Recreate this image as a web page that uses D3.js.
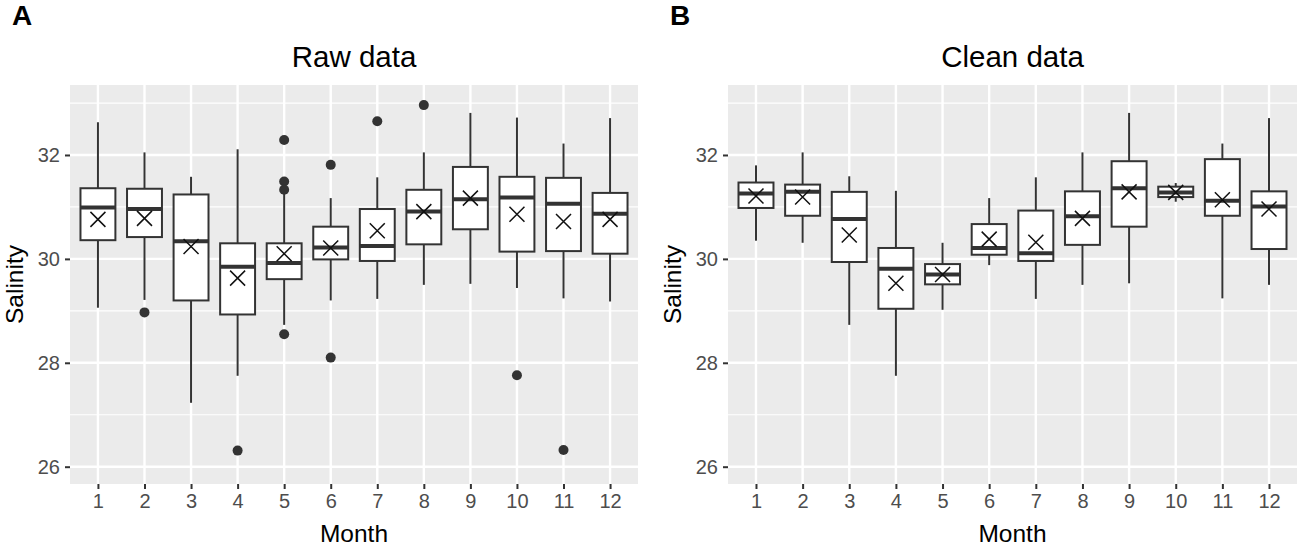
<!DOCTYPE html>
<html>
<head>
<meta charset="utf-8">
<script src="https://cdn.jsdelivr.net/npm/d3@7.9.0/dist/d3.min.js"></script>
<style>
  body { margin: 0; background: #fff; }
  svg { display: block; font-family: "Liberation Sans", Arial, sans-serif; }
</style>
</head>
<body>
<div id="chart"></div>
<script>
const months = [1, 2, 3, 4, 5, 6, 7, 8, 9, 10, 11, 12];
const yTicks = [26, 28, 30, 32];
const yMinor = [27, 29, 31, 33];

// Raw data, per month: whisker ends, quartiles, median, mean
const rawLow  = [29.06, 29.21, 27.23, 27.75, 28.73, 29.20, 29.23, 29.50, 29.52, 29.44, 29.24, 29.18];
const rawQ1   = [30.36, 30.42, 29.20, 28.93, 29.61, 29.99, 29.96, 30.28, 30.57, 30.14, 30.15, 30.10];
const rawMed  = [30.99, 30.96, 30.34, 29.85, 29.92, 30.22, 30.25, 30.91, 31.15, 31.18, 31.06, 30.87];
const rawQ3   = [31.36, 31.35, 31.24, 30.30, 30.30, 30.62, 30.96, 31.33, 31.77, 31.58, 31.56, 31.27];
const rawHigh = [32.63, 32.05, 31.58, 32.11, 31.25, 31.17, 31.57, 32.05, 32.81, 32.72, 32.22, 32.71];
const rawMean = [30.76, 30.78, 30.24, 29.63, 30.10, 30.21, 30.54, 30.91, 31.17, 30.86, 30.72, 30.76];
const rawOutliers = [
  [2, 28.97], [4, 26.31], [5, 32.29], [5, 31.49], [5, 31.33], [5, 28.55],
  [6, 31.81], [6, 28.10], [7, 32.65], [8, 32.96], [10, 27.76], [11, 26.32]
];

// Clean data
const cleanLow  = [30.35, 30.31, 28.73, 27.75, 29.02, 29.88, 29.23, 29.50, 29.53, 31.10, 29.24, 29.50];
const cleanQ1   = [30.98, 30.83, 29.94, 29.04, 29.51, 30.08, 29.96, 30.27, 30.62, 31.19, 30.83, 30.19];
const cleanMed  = [31.26, 31.29, 30.77, 29.81, 29.70, 30.21, 30.11, 30.82, 31.36, 31.28, 31.12, 31.01];
const cleanQ3   = [31.47, 31.43, 31.29, 30.21, 29.90, 30.67, 30.93, 31.30, 31.88, 31.39, 31.92, 31.30];
const cleanHigh = [31.80, 32.05, 31.59, 31.31, 30.31, 31.17, 31.57, 32.05, 32.81, 31.46, 32.22, 32.71];
const cleanMean = [31.21, 31.19, 30.46, 29.53, 29.70, 30.38, 30.32, 30.78, 31.29, 31.28, 31.14, 30.96];
const cleanOutliers = [];

const width = 1299, height = 549;
const panelTop = 85, panelBottom = 484;

const svg = d3.select('#chart')
  .append('svg')
  .attr('width', width)
  .attr('height', height);

svg.append('rect').attr('width', width).attr('height', height).attr('fill', '#fff');

const yScale = d3.scaleLinear()
  .domain([25.667, 33.347])
  .range([panelBottom, panelTop]);

function drawPanel(left, right, title, tag, low, q1, med, q3, high, mean, outliers) {
  const x = d3.scalePoint()
    .domain(months)
    .range([left, right])
    .padding(0.6);
  const boxW = x.step() * 0.75;

  const g = svg.append('g');

  // panel background + grid
  g.append('rect')
    .attr('x', left).attr('y', panelTop)
    .attr('width', right - left).attr('height', panelBottom - panelTop)
    .attr('fill', '#ebebeb');

  g.append('g').selectAll('line')
    .data(yMinor)
    .join('line')
    .attr('x1', left).attr('x2', right)
    .attr('y1', d => yScale(d)).attr('y2', d => yScale(d))
    .attr('stroke', '#fff').attr('stroke-width', 1.2);

  g.append('g').selectAll('line')
    .data(yTicks)
    .join('line')
    .attr('x1', left).attr('x2', right)
    .attr('y1', d => yScale(d)).attr('y2', d => yScale(d))
    .attr('stroke', '#fff').attr('stroke-width', 2.4);

  g.append('g').selectAll('line')
    .data(months)
    .join('line')
    .attr('x1', d => x(d)).attr('x2', d => x(d))
    .attr('y1', panelTop).attr('y2', panelBottom)
    .attr('stroke', '#fff').attr('stroke-width', 2.4);

  // axes
  const xAxis = g.append('g')
    .attr('transform', `translate(0, ${panelBottom})`)
    .call(d3.axisBottom(x).tickSize(5).tickPadding(5));
  xAxis.select('.domain').remove();
  xAxis.selectAll('line').attr('stroke', '#333').attr('stroke-width', 2);
  xAxis.selectAll('text').attr('fill', '#4d4d4d').attr('font-size', 20)
    .attr('font-family', '"Liberation Sans", Arial, sans-serif');

  const yAxis = g.append('g')
    .attr('transform', `translate(${left}, 0)`)
    .call(d3.axisLeft(yScale).tickValues(yTicks).tickSize(5).tickPadding(5));
  yAxis.select('.domain').remove();
  yAxis.selectAll('line').attr('stroke', '#333').attr('stroke-width', 2);
  yAxis.selectAll('text').attr('fill', '#4d4d4d').attr('font-size', 20)
    .attr('font-family', '"Liberation Sans", Arial, sans-serif');

  // titles
  g.append('text')
    .attr('x', (left + right) / 2).attr('y', 66.5)
    .attr('text-anchor', 'middle')
    .attr('font-size', 29.5)
    .text(title);

  g.append('text')
    .attr('x', (left + right) / 2).attr('y', 541.5)
    .attr('text-anchor', 'middle')
    .attr('font-size', 24.5)
    .text('Month');

  g.append('text')
    .attr('transform', `translate(${left - 47}, ${(panelTop + panelBottom) / 2}) rotate(-90)`)
    .attr('text-anchor', 'middle')
    .attr('font-size', 24.5)
    .text('Salinity');

  g.append('text')
    .attr('x', left - 58).attr('y', 24.5)
    .attr('font-size', 28)
    .attr('font-weight', 'bold')
    .text(tag);

  // boxplots
  const stats = months.map((m, i) => ({
    m, low: low[i], q1: q1[i], med: med[i], q3: q3[i], high: high[i], mean: mean[i]
  }));

  const boxes = g.append('g').selectAll('g')
    .data(stats)
    .join('g');

  boxes.append('line')
    .attr('x1', d => x(d.m)).attr('x2', d => x(d.m))
    .attr('y1', d => yScale(d.high)).attr('y2', d => yScale(d.q3))
    .attr('stroke', '#333').attr('stroke-width', 2);
  boxes.append('line')
    .attr('x1', d => x(d.m)).attr('x2', d => x(d.m))
    .attr('y1', d => yScale(d.q1)).attr('y2', d => yScale(d.low))
    .attr('stroke', '#333').attr('stroke-width', 2);

  boxes.append('rect')
    .attr('x', d => x(d.m) - boxW / 2)
    .attr('y', d => yScale(d.q3))
    .attr('width', boxW)
    .attr('height', d => yScale(d.q1) - yScale(d.q3))
    .attr('fill', '#fff')
    .attr('stroke', '#333').attr('stroke-width', 2);

  boxes.append('line')
    .attr('x1', d => x(d.m) - boxW / 2).attr('x2', d => x(d.m) + boxW / 2)
    .attr('y1', d => yScale(d.med)).attr('y2', d => yScale(d.med))
    .attr('stroke', '#333').attr('stroke-width', 4);

  // mean as an X
  const s = 7.5;
  boxes.append('path')
    .attr('d', d => {
      const cx = x(d.m), cy = yScale(d.mean);
      return `M${cx - s},${cy - s}L${cx + s},${cy + s}M${cx - s},${cy + s}L${cx + s},${cy - s}`;
    })
    .attr('stroke', '#111').attr('stroke-width', 1.5).attr('fill', 'none');

  g.append('g').selectAll('circle')
    .data(outliers)
    .join('circle')
    .attr('cx', d => x(d[0]))
    .attr('cy', d => yScale(d[1]))
    .attr('r', 5)
    .attr('fill', '#333');
}

drawPanel(70, 638, 'Raw data', 'A', rawLow, rawQ1, rawMed, rawQ3, rawHigh, rawMean, rawOutliers);
drawPanel(728, 1297, 'Clean data', 'B', cleanLow, cleanQ1, cleanMed, cleanQ3, cleanHigh, cleanMean, cleanOutliers);
</script>
</body>
</html>
